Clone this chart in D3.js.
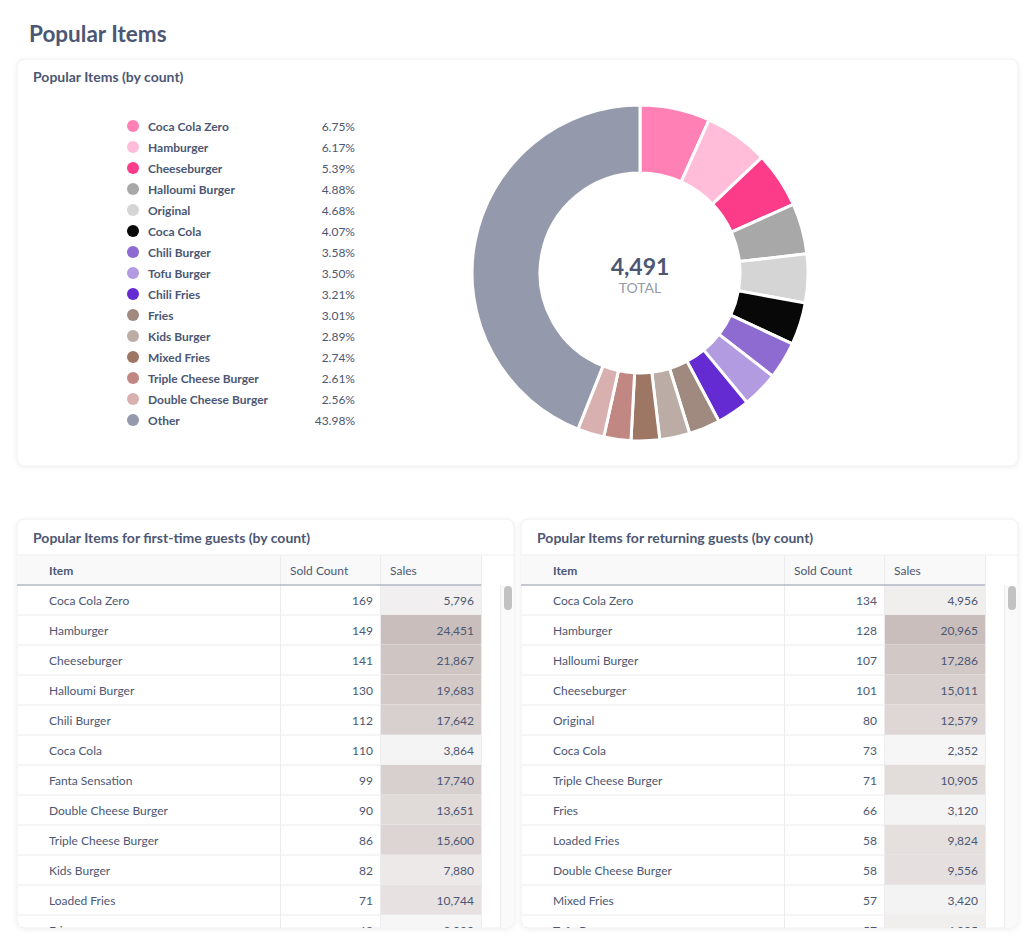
<!DOCTYPE html>
<html><head><meta charset="utf-8">
<script src="https://cdn.jsdelivr.net/npm/d3@7"></script>
<style>
html,body{margin:0;padding:0;background:#fff;}
svg{display:block;font-family:Lato,"Noto Sans",sans-serif;}
</style></head>
<body><svg id="c" width="1035" height="945"></svg>
<script>
// ---- data ----
const pieLabels = ["Coca Cola Zero","Hamburger","Cheeseburger","Halloumi Burger","Original","Coca Cola","Chili Burger","Tofu Burger","Chili Fries","Fries","Kids Burger","Mixed Fries","Triple Cheese Burger","Double Cheese Burger","Other"];
const pieCounts = [303,277,242,219,210,183,161,157,144,135,130,123,117,115,1975];
const pieColors = ["#ff80b4","#ffbdd9","#fc3b89","#a8a8a8","#d6d5d6","#080808","#8d6bd0","#b29be0","#632bd1","#a08a80","#bbada6","#9e7664","#c08783","#d7b0af","#949aab"];

const firstItems = ["Coca Cola Zero","Hamburger","Cheeseburger","Halloumi Burger","Chili Burger","Coca Cola","Fanta Sensation","Double Cheese Burger","Triple Cheese Burger","Kids Burger","Loaded Fries","Fries"];
const firstCounts = [169,149,141,130,112,110,99,90,86,82,71,68];
const firstSales = [5796,24451,21867,19683,17642,3864,17740,13651,15600,7880,10744,3090];

const retItems = ["Coca Cola Zero","Hamburger","Halloumi Burger","Cheeseburger","Original","Coca Cola","Triple Cheese Burger","Fries","Loaded Fries","Double Cheese Burger","Mixed Fries","Tofu Burger"];
const retCounts = [134,128,107,101,80,73,71,66,58,58,57,57];
const retSales = [4956,20965,17286,15011,12579,2352,10905,3120,9824,9556,3420,4905];

const tableHeaders = ["Item","Sold Count","Sales"];

// ---- drawing ----
const dark = "#4c5773", mid = "#949aab";
const svg = d3.select("#c");
const defs = svg.append("defs");
const f = defs.append("filter").attr("id","sh").attr("x","-5%").attr("y","-5%").attr("width","110%").attr("height","110%");
f.append("feDropShadow").attr("dx",0).attr("dy",1).attr("stdDeviation",2.5).attr("flood-color","#000").attr("flood-opacity",0.07);

svg.append("text").attr("x",29).attr("y",42).attr("font-size",22.5).attr("font-weight",700).attr("fill",dark).text("Popular Items");

function card(x,y,w,h){
  svg.append("rect").attr("x",x).attr("y",y).attr("width",w).attr("height",h).attr("rx",8)
    .attr("fill","#fff").attr("stroke","#f0f0f2").attr("filter","url(#sh)");
}

// Card 1
card(17,59,1001,407);
svg.append("text").attr("x",33).attr("y",82).attr("font-size",14).attr("font-weight",700).attr("fill",dark).text("Popular Items (by count)");

const total = d3.sum(pieCounts);
const pct = d3.format(".2%");
const lg = svg.append("g");
const ly = d3.scalePoint().domain(pieLabels).range([126,420]);
const rows = lg.selectAll("g").data(pieLabels).join("g").attr("transform",d=>`translate(0,${ly(d)})`);
rows.append("circle").attr("cx",133).attr("cy",0).attr("r",6).attr("fill",(d,i)=>pieColors[i]);
rows.append("text").attr("x",148).attr("y",4.5).attr("font-size",12).attr("font-weight",700).attr("fill",dark).text(d=>d);
rows.append("text").attr("x",355).attr("y",4.5).attr("text-anchor","end").attr("font-size",12).attr("fill",dark).text((d,i)=>pct(pieCounts[i]/total));

const cx=640, cy=273;
const pie = d3.pie().sort(null).value(d=>d);
const arc = d3.arc().innerRadius(100).outerRadius(168);
const pg = svg.append("g").attr("transform",`translate(${cx},${cy})`);
pg.selectAll("path").data(pie(pieCounts)).join("path").attr("d",arc)
  .attr("fill",(d,i)=>pieColors[i]).attr("stroke","#fff").attr("stroke-width",3).attr("stroke-linejoin","round");
pg.append("text").attr("y",2).attr("text-anchor","middle").attr("font-size",23).attr("font-weight",700).attr("fill",dark).text(d3.format(",")(total));
pg.append("text").attr("y",20).attr("text-anchor","middle").attr("font-size",14).attr("fill",mid).text("TOTAL");

// tables
function table(x0, title, items, counts, sales){
  const y0=519, w=497, h=409;
  card(x0,y0,w,h);
  const clipId = "clip"+x0;
  defs.append("clipPath").attr("id",clipId).append("rect").attr("x",x0).attr("y",y0).attr("width",w).attr("height",h).attr("rx",8);
  const g = svg.append("g").attr("clip-path",`url(#${clipId})`);
  g.append("text").attr("x",x0+16).attr("y",543).attr("font-size",14).attr("font-weight",700).attr("fill",dark).text(title);
  const colX = [x0, x0+263, x0+363, x0+464];
  const hy=555, hh=30, rh=30;
  // header
  g.append("rect").attr("x",x0).attr("y",hy).attr("width",464).attr("height",hh).attr("fill","#f9f9fa");
  g.append("line").attr("x1",x0).attr("x2",x0+w).attr("y1",hy).attr("y2",hy).attr("stroke","#efeff1");
  tableHeaders.forEach((t,i)=>{
    g.append("text").attr("x",i===0?x0+32:colX[i]+10).attr("y",hy+20).attr("font-size",12)
      .attr("font-weight",i===0?700:400).attr("fill",dark).text(t);
  });
  const sc = d3.scaleLinear().domain(d3.extent(sales)).range(["#f7f6f6","#c9bebb"]);
  const y = d3.scaleBand().domain(d3.range(items.length)).range([hy+hh, hy+hh+rh*items.length]);
  const r = g.selectAll("g.row").data(items).join("g").attr("class","row");
  r.append("rect").attr("x",colX[2]).attr("y",(d,i)=>y(i)).attr("width",101).attr("height",rh).attr("fill",(d,i)=>sc(sales[i]));
  r.append("line").attr("x1",x0).attr("x2",colX[3]).attr("y1",(d,i)=>y(i)+rh).attr("y2",(d,i)=>y(i)+rh).attr("stroke","#ececee");
  r.append("text").attr("x",x0+32).attr("y",(d,i)=>y(i)+20).attr("font-size",12).attr("fill",dark).text(d=>d);
  r.append("text").attr("x",colX[2]-7).attr("y",(d,i)=>y(i)+20).attr("text-anchor","end").attr("font-size",12).attr("fill",dark).text((d,i)=>counts[i]);
  r.append("text").attr("x",colX[3]-7).attr("y",(d,i)=>y(i)+20).attr("text-anchor","end").attr("font-size",12).attr("fill",dark).text((d,i)=>d3.format(",")(sales[i]));
  // column dividers
  [colX[1],colX[2],colX[3]].forEach(cxv=>{
    g.append("line").attr("x1",cxv+0.5).attr("x2",cxv+0.5).attr("y1",hy).attr("y2",y0+h).attr("stroke","#ececee");
  });
  g.append("line").attr("x1",x0).attr("x2",colX[3]).attr("y1",hy+hh).attr("y2",hy+hh).attr("stroke","#8f98ab").attr("stroke-width",1.2);
  // scrollbar
  g.append("rect").attr("x",x0+483).attr("y",hy+hh).attr("width",w-483).attr("height",h).attr("fill","#fafafa");
  g.append("line").attr("x1",x0+483.5).attr("x2",x0+483.5).attr("y1",hy+hh).attr("y2",y0+h).attr("stroke","#ececee");
  g.append("rect").attr("x",x0+487).attr("y",hy+hh+1).attr("width",8).attr("height",24).attr("rx",4).attr("fill","#c2c2c2");
}
table(17,"Popular Items for first-time guests (by count)",firstItems,firstCounts,firstSales);
table(521,"Popular Items for returning guests (by count)",retItems,retCounts,retSales);
</script></body></html>
